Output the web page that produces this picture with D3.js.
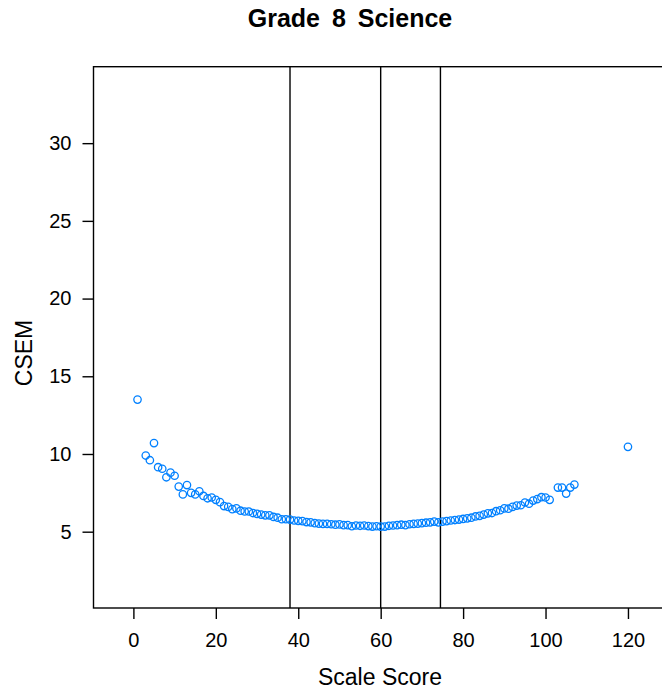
<!DOCTYPE html>
<html>
<head>
<meta charset="utf-8">
<script src="https://cdn.jsdelivr.net/npm/d3@7"></script>
<style>
  html, body { margin: 0; padding: 0; background: #fff; }
  svg { display: block; }
  text { font-family: "Liberation Sans", Arial, sans-serif; fill: #000; }
</style>
</head>
<body>
<svg id="chart" width="662" height="691"></svg>
<script>
// Scale score and conditional standard error of measurement (CSEM)
const scaleScores = [
  1, 3, 4, 5, 6, 7, 8, 9, 10, 11, 12, 13, 14, 15, 16, 17, 18, 19, 20,
  21, 22, 23, 24, 25, 26, 27, 28, 29, 30, 31, 32, 33, 34, 35, 36, 37, 38, 39, 40,
  41, 42, 43, 44, 45, 46, 47, 48, 49, 50, 51, 52, 53, 54, 55, 56, 57, 58, 59, 60,
  61, 62, 63, 64, 65, 66, 67, 68, 69, 70, 71, 72, 73, 74, 75, 76, 77, 78, 79, 80,
  81, 82, 83, 84, 85, 86, 87, 88, 89, 90, 91, 92, 93, 94, 95, 96, 97, 98, 99, 100,
  101, 103, 104, 105, 106, 107, 120
];
const csem = [
  13.5, 9.9, 9.6, 10.7, 9.15, 9.05, 8.5, 8.8, 8.6, 7.9, 7.4, 8.0, 7.5, 7.4, 7.6, 7.3, 7.15, 7.2, 7.05,
  6.9, 6.65, 6.6, 6.45, 6.5, 6.35, 6.3, 6.3, 6.2, 6.15, 6.1, 6.05, 6.05, 5.95, 5.9, 5.8, 5.8, 5.78, 5.72, 5.7,
  5.68, 5.62, 5.6, 5.55, 5.52, 5.5, 5.5, 5.48, 5.45, 5.47, 5.42, 5.42, 5.35, 5.4, 5.38, 5.4, 5.36, 5.33, 5.35, 5.33,
  5.33, 5.38, 5.4, 5.42, 5.45, 5.42, 5.48, 5.5, 5.52, 5.55, 5.58, 5.6, 5.65, 5.6, 5.65, 5.68, 5.72, 5.75, 5.78, 5.82,
  5.86, 5.9, 5.98, 6.02, 6.1, 6.18, 6.2, 6.32, 6.38, 6.5, 6.48, 6.6, 6.68, 6.7, 6.88, 6.8, 7.0, 7.1, 7.22, 7.2,
  7.05, 7.84, 7.84, 7.45, 7.84, 8.03, 10.46
];
// Cut scores drawn as vertical reference lines
const cutScores = [38, 60, 74.5];

const xTicks = [0, 20, 40, 60, 80, 100, 120];
const yTicks = [5, 10, 15, 20, 25, 30];

const svg = d3.select("#chart");
const frame = { left: 93.5, right: 670, top: 66.7, bottom: 608 };

const x = d3.scaleLinear().domain([-9.68, 130.2]).range([frame.left, frame.right]);
const y = d3.scaleLinear().domain([0.09, 34.92]).range([frame.bottom, frame.top]);

// Title
svg.append("text")
  .attr("x", 350).attr("y", 27)
  .attr("text-anchor", "middle")
  .style("font-size", "25px").style("font-weight", "bold")
  .style("word-spacing", "5px")
  .text("Grade 8 Science");

// Panel frame
svg.append("rect")
  .attr("x", frame.left).attr("y", frame.top)
  .attr("width", frame.right - frame.left).attr("height", frame.bottom - frame.top)
  .attr("fill", "none").attr("stroke", "#000").attr("stroke-width", 1.4);

// Axes (ticks outside the panel)
const xAxis = svg.append("g")
  .attr("transform", `translate(0,${frame.bottom})`)
  .call(d3.axisBottom(x).tickValues(xTicks).tickSize(11).tickPadding(14).tickFormat(d3.format("d")));
const yAxis = svg.append("g")
  .attr("transform", `translate(${frame.left},0)`)
  .call(d3.axisLeft(y).tickValues(yTicks).tickSize(11).tickPadding(11).tickFormat(d3.format("d")));
[xAxis, yAxis].forEach(g => {
  g.select(".domain").remove();
  g.selectAll(".tick line").attr("stroke", "#000").attr("stroke-width", 1.4);
  g.selectAll(".tick text").style("font-size", "20px").attr("fill", "#000")
    .style("font-family", "'Liberation Sans', Arial, sans-serif");
});

// Cut score lines
svg.append("g").selectAll("line")
  .data(cutScores)
  .join("line")
  .attr("x1", d => x(d)).attr("x2", d => x(d))
  .attr("y1", frame.top).attr("y2", frame.bottom)
  .attr("stroke", "#000").attr("stroke-width", 1.4);

// Points
svg.append("g").selectAll("circle")
  .data(scaleScores.map((s, i) => ({ s, v: csem[i] })))
  .join("circle")
  .attr("cx", d => x(d.s)).attr("cy", d => y(d.v))
  .attr("r", 3.7)
  .attr("fill", "none")
  .attr("stroke", "#0080ff")
  .attr("stroke-width", 1.3);

// Axis titles
svg.append("text")
  .attr("x", 380).attr("y", 685)
  .attr("text-anchor", "middle")
  .style("font-size", "23px")
  .text("Scale Score");
svg.append("text")
  .attr("transform", "translate(32,353) rotate(-90)")
  .attr("text-anchor", "middle")
  .style("font-size", "23px")
  .text("CSEM");
</script>
</body>
</html>
